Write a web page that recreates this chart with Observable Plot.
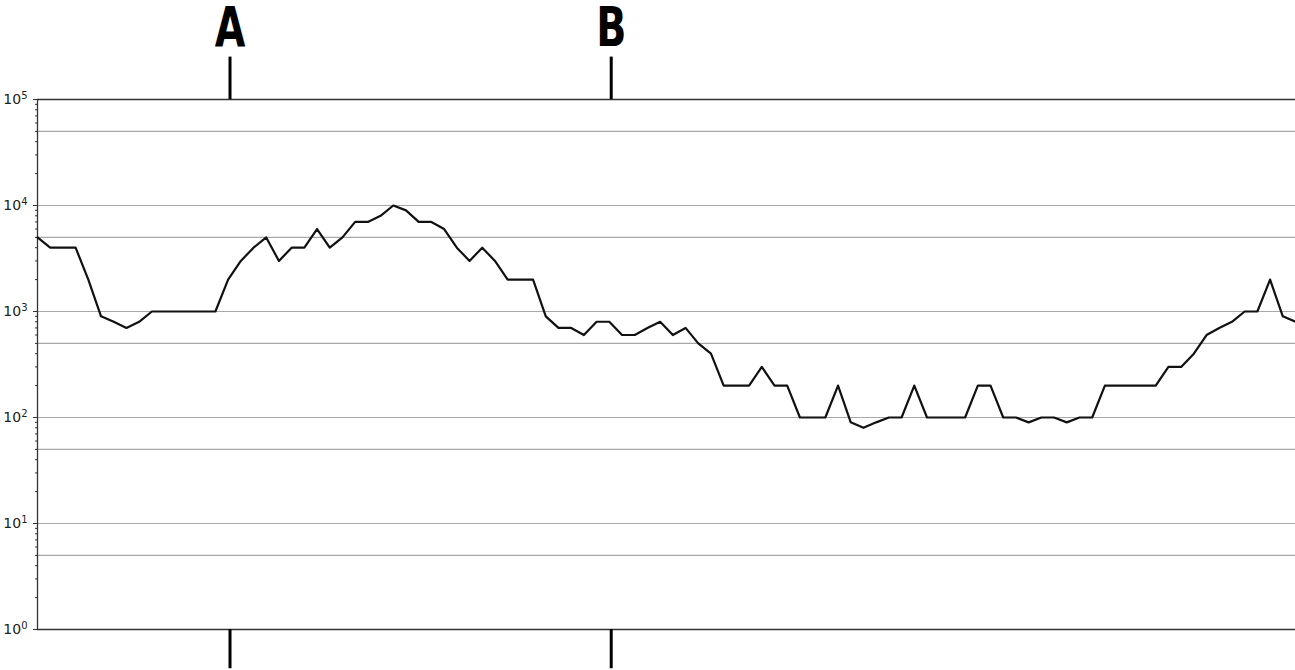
<!DOCTYPE html>
<html>
<head>
<meta charset="utf-8">
<script src="https://cdn.jsdelivr.net/npm/d3@7"></script>
<script src="https://cdn.jsdelivr.net/npm/@observablehq/plot@0.6"></script>
<style>
  html, body { margin: 0; padding: 0; background: #fff; }
  #chart svg { display: block; }
</style>
</head>
<body>
<div id="chart"></div>
<script>
// Daily counts, one value per step (log scale)
const counts = [
  5000, 4000, 4000, 4000, 2000, 900, 800, 700, 800, 1000,
  1000, 1000, 1000, 1000, 1000, 2000, 3000, 4000, 5000, 3000,
  4000, 4000, 6000, 4000, 5000, 7000, 7000, 8000, 10000, 9000,
  7000, 7000, 6000, 4000, 3000, 4000, 3000, 2000, 2000, 2000,
  900, 700, 700, 600, 800, 800, 600, 600, 700, 800,
  600, 700, 500, 400, 200, 200, 200, 300, 200, 200,
  100, 100, 100, 200, 90, 80, 90, 100, 100, 200,
  100, 100, 100, 100, 200, 200, 100, 100, 90, 100,
  100, 90, 100, 100, 200, 200, 200, 200, 200, 300,
  300, 400, 600, 700, 800, 1000, 1000, 2000, 900, 800
];
const steps = counts.map((_, i) => i);

// Event markers
const eventLabels = ["A", "B"];
const eventSteps = [15.15, 45.15];

// Axis ticks and grid levels
const majorTicks = [1, 10, 100, 1000, 10000, 100000];
const halfDecades = [5, 50, 500, 5000, 50000];
const minorTicks = [0, 1, 2, 3, 4].flatMap(k => [2, 3, 4, 5, 6, 7, 8, 9].map(m => m * 10 ** k));

const exponent = d => String(Math.round(Math.log10(d)));

const series = steps.map((s, i) => ({step: s, count: counts[i]}));
const events = eventLabels.map((label, i) => ({label, step: eventSteps[i]}));

// extents of the event markers beyond the frame (in data units of the log scale)
const markTop = 10 ** 5.4;
const markBottom = 10 ** -0.37;

const chart = Plot.plot({
  width: 1295,
  height: 670,
  marginTop: 99,
  marginBottom: 41,
  marginLeft: 37,
  marginRight: 0,
  style: {
    fontFamily: "'DejaVu Sans', sans-serif",
    background: "#fff",
    color: "#222"
  },
  x: {domain: [0, steps[steps.length - 1]], axis: null},
  y: {type: "log", domain: [1, 1e5], axis: null},
  marks: [
    Plot.ruleY([...majorTicks.slice(1, -1), ...halfDecades], {stroke: "#a8a8a8", strokeWidth: 1.2}),
    Plot.ruleY([1, 1e5], {stroke: "#333", strokeWidth: 1.6}),
    Plot.ruleX([0], {stroke: "#333", strokeWidth: 1.3}),
    Plot.axisY(minorTicks, {tickSize: 2, tickFormat: () => "", label: null, stroke: "#333"}),
    Plot.axisY(majorTicks, {tickSize: 4, tickPadding: 6, tickFormat: exponent, label: null, fontSize: 14, stroke: "#333", className: "major-ticks"}),
    Plot.line(series, {x: "step", y: "count", stroke: "#111", strokeWidth: 2.2}),
    Plot.ruleX(events, {x: "step", y1: 1e5, y2: markTop, stroke: "#000", strokeWidth: 3}),
    Plot.ruleX(events, {x: "step", y1: 1, y2: markBottom, stroke: "#000", strokeWidth: 3}),
    Plot.text(events, {x: "step", y: markTop, text: "label", lineAnchor: "bottom", dy: -11, fontSize: 55, fontWeight: "bold", fill: "#000", className: "event-labels"})
  ]
});

// condensed event letters
d3.select(chart).selectAll(".event-labels text").attr("transform", function () {
  return (this.getAttribute("transform") || "") + " scale(0.72,1)";
});

// tick labels as powers of ten: base "10" with a raised exponent
d3.select(chart).selectAll(".major-ticks text").each(function () {
  const exp = this.textContent;
  const t = d3.select(this);
  t.text(null);
  t.append("tspan").text("10");
  t.append("tspan").attr("font-size", 10).attr("dy", "-0.5em").text(exp);
});

document.getElementById("chart").appendChild(chart);
</script>
</body>
</html>
